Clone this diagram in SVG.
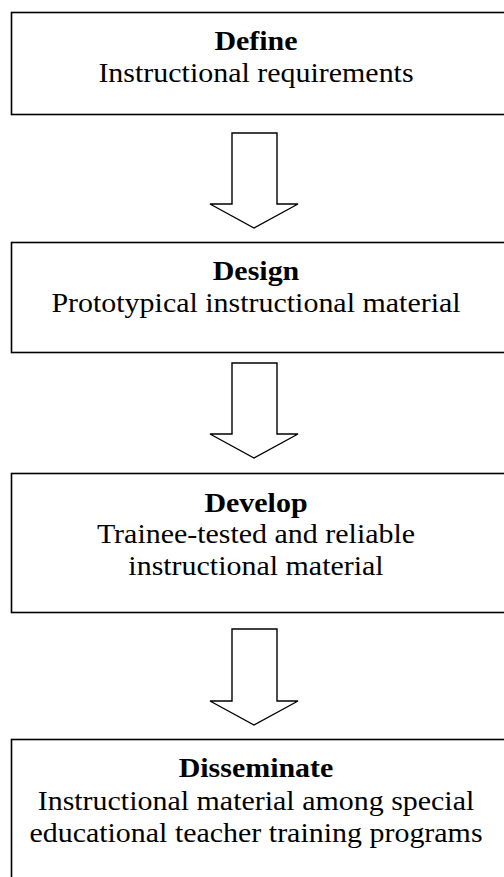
<svg xmlns="http://www.w3.org/2000/svg" width="504" height="877" viewBox="0 0 504 877">
<style>
.box{fill:#fff;stroke:#000;stroke-width:1.6}
.arr{fill:#fff;stroke:#000;stroke-width:1.4;stroke-linejoin:miter}
text{font-family:"Liberation Serif","Times New Roman",serif;font-size:28px;fill:#000;text-anchor:middle}
.t{font-weight:bold}
</style>
<rect width="504" height="877" fill="#fff"/>
<g id="connectors">
<path class="arr" d="M232,133 H277 V204 H298 L254,228 L210,204 H232 Z"/>
<path class="arr" d="M232,363 H277 V434 H298 L254,458 L210,434 H232 Z"/>
<path class="arr" d="M232,629 H277 V701 H298 L254,725 L210,701 H232 Z"/>
</g>
<g id="define">
<rect class="box" x="11.5" y="12.5" width="520" height="102"/>
<g transform="translate(256,0) scale(1.07,1) translate(-256,0)">
<text class="t" x="256" y="50">Define</text>
<text x="256" y="82">Instructional requirements</text>
</g>
</g>
<g id="design">
<rect class="box" x="11.5" y="242.5" width="520" height="110"/>
<g transform="translate(256,0) scale(1.07,1) translate(-256,0)">
<text class="t" x="256" y="280">Design</text>
<text x="256" y="312">Prototypical instructional material</text>
</g>
</g>
<g id="develop">
<rect class="box" x="11.5" y="473.5" width="520" height="139"/>
<g transform="translate(256,0) scale(1.07,1) translate(-256,0)">
<text class="t" x="256" y="512">Develop</text>
<text x="256" y="543">Trainee-tested and reliable</text>
<text x="256" y="575">instructional material</text>
</g>
</g>
<g id="disseminate">
<rect class="box" x="11.5" y="739.5" width="520" height="160"/>
<g transform="translate(256,0) scale(1.07,1) translate(-256,0)">
<text class="t" x="256" y="777">Disseminate</text>
<text x="256" y="810">Instructional material among special</text>
<text x="256" y="842">educational teacher training programs</text>
</g>
</g>
</svg>
